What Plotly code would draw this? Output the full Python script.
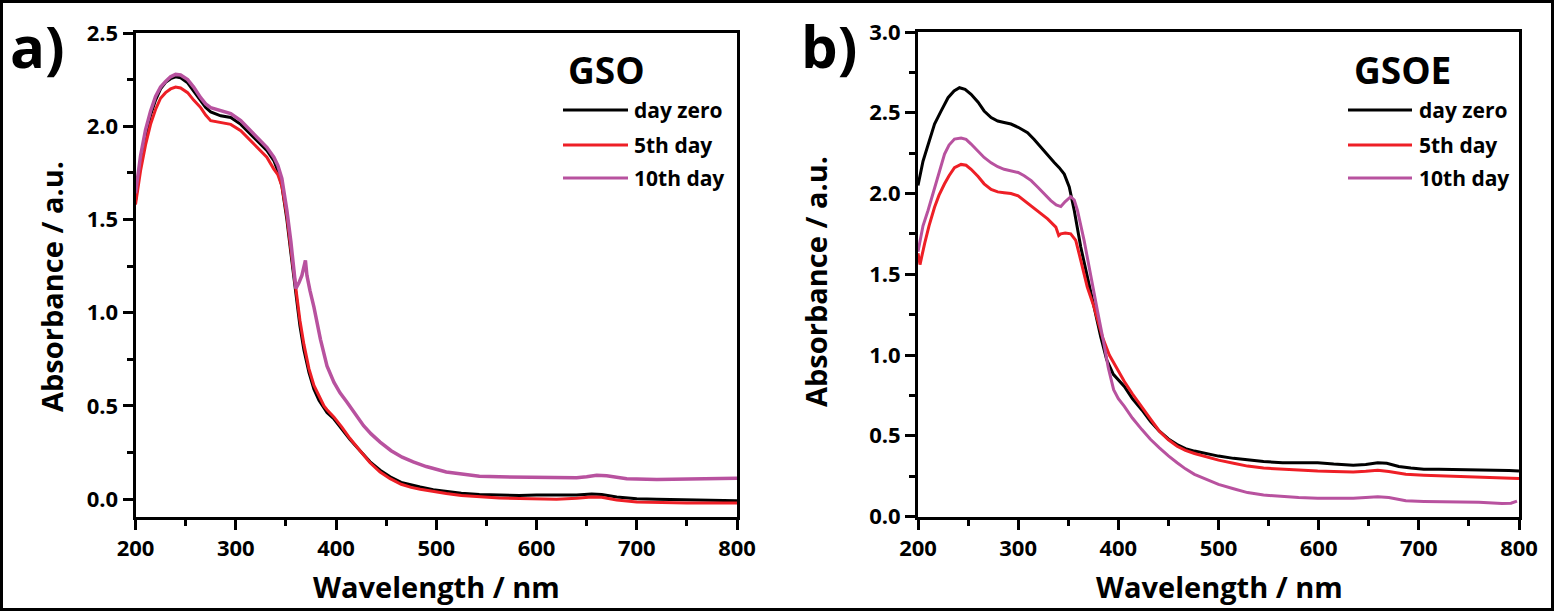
import plotly.graph_objects as go

# ---------------- data: GSO (panel a) ----------------
gso_day0_wl = [200, 205, 210, 215, 220, 225, 230, 235, 240, 245, 252, 258, 265, 270, 275, 285, 295, 305,
               318, 331, 338, 342, 346, 351, 355, 360, 364, 368, 373, 378, 383, 388, 391, 398, 406, 414,
               424, 434, 444, 454, 465, 475, 484, 497, 510, 525, 543, 563, 583, 600, 620, 640, 655, 665,
               680, 700, 720, 750, 780, 800]
gso_day0 = [1.60, 1.80, 1.95, 2.06, 2.14, 2.20, 2.235, 2.255, 2.265, 2.26, 2.233, 2.19, 2.136, 2.10, 2.077,
            2.056, 2.047, 2.01, 1.94, 1.87, 1.816, 1.76, 1.68, 1.50, 1.32, 1.10, 0.93, 0.80, 0.68, 0.59,
            0.53, 0.49, 0.465, 0.43, 0.375, 0.32, 0.26, 0.20, 0.155, 0.12, 0.09, 0.075, 0.065, 0.05,
            0.041, 0.032, 0.025, 0.022, 0.02, 0.022, 0.02, 0.022, 0.028, 0.025, 0.012, 0.002, 0.0,
            -0.002, -0.005, -0.008]

gso_day5_wl = gso_day0_wl
gso_day5 = [1.58, 1.76, 1.90, 2.01, 2.09, 2.15, 2.18, 2.20, 2.21, 2.205, 2.18, 2.14, 2.10, 2.06, 2.03,
            2.02, 2.01, 1.976, 1.905, 1.834, 1.77, 1.74, 1.68, 1.52, 1.34, 1.12, 0.96, 0.83, 0.70, 0.61,
            0.55, 0.50, 0.48, 0.44, 0.385, 0.325, 0.26, 0.195, 0.145, 0.11, 0.08, 0.063, 0.053, 0.04,
            0.03, 0.02, 0.012, 0.006, 0.004, 0.002, 0.0, 0.005, 0.012, 0.01, -0.005, -0.015, -0.018,
            -0.02, -0.02, -0.02]

gso_day10_wl = [200, 205, 210, 215, 220, 225, 230, 235, 240, 245, 252, 258, 265, 270, 275, 285, 295, 305,
                318, 331, 338, 342, 346, 351, 355, 358, 360, 363, 366, 369.5, 371, 374, 378, 384.5, 391,
                398, 404, 411, 419, 427.5, 435, 444, 455, 466, 477, 490, 510, 525, 543, 563, 583, 600,
                620, 640, 650, 660, 670, 690, 720, 750, 780, 800]
gso_day10 = [1.64, 1.84, 1.98, 2.08, 2.16, 2.21, 2.24, 2.265, 2.278, 2.275, 2.25, 2.21, 2.153, 2.12, 2.10,
             2.083, 2.068, 2.03, 1.958, 1.887, 1.834, 1.79, 1.72, 1.55, 1.38, 1.22, 1.13, 1.16, 1.20,
             1.28, 1.20, 1.12, 1.03, 0.857, 0.714, 0.626, 0.57, 0.52, 0.455, 0.394, 0.35, 0.306, 0.26,
             0.225, 0.20, 0.175, 0.146, 0.135, 0.123, 0.12, 0.119, 0.118, 0.115, 0.115, 0.12, 0.128,
             0.125, 0.11, 0.105, 0.108, 0.11, 0.112]

# ---------------- data: GSOE (panel b) ----------------
gsoe_day0_wl = [200, 205, 210, 216.5, 223, 230, 236, 241.4, 247, 253, 260, 266, 273, 279.6, 286, 292.8,
                300, 309.4, 316, 322.7, 330, 336, 341, 346, 351, 356, 362.5, 369, 375.7, 382.4, 388.4,
                395, 406, 414, 423.5, 432, 441, 450, 458.7, 467, 476, 488, 500, 515, 529, 545, 564, 580,
                599, 615, 634.5, 647, 659, 668, 680, 692, 705, 720, 740, 760, 775, 790, 800]
gsoe_day0 = [2.05, 2.20, 2.30, 2.43, 2.51, 2.593, 2.635, 2.655, 2.645, 2.614, 2.565, 2.511, 2.47, 2.449,
             2.44, 2.43, 2.41, 2.377, 2.335, 2.285, 2.235, 2.192, 2.16, 2.12, 2.04, 1.895, 1.668, 1.483,
             1.298, 1.113, 0.97, 0.88, 0.805, 0.73, 0.66, 0.59, 0.528, 0.48, 0.446, 0.42, 0.405, 0.388,
             0.374, 0.36, 0.349, 0.34, 0.333, 0.333, 0.333, 0.325, 0.318, 0.322, 0.333, 0.33, 0.31, 0.30,
             0.292, 0.292, 0.29, 0.29, 0.288, 0.285, 0.281]

gsoe_day5_wl = [200, 202, 206.6, 211, 216.5, 221, 226.5, 231, 236.4, 243, 248, 253, 260, 266, 273, 279.6,
                286, 292.8, 300, 306, 313, 319.4, 329.4, 337.6, 339, 340.5, 342.6, 347, 352.5, 357.5,
                362.5, 369, 375.7, 384, 391, 399, 406, 414, 423.5, 432, 441, 450, 458.7, 467, 476, 488,
                500, 515, 529, 545, 564, 580, 599, 615, 634.5, 647, 659, 670, 687, 705, 720, 740, 760,
                780, 800]
gsoe_day5 = [1.63, 1.56, 1.69, 1.80, 1.915, 1.99, 2.06, 2.11, 2.16, 2.18, 2.175, 2.15, 2.105, 2.06, 2.025,
             2.01, 2.005, 2.0, 1.985, 1.956, 1.925, 1.895, 1.843, 1.792, 1.77, 1.74, 1.75, 1.755, 1.75,
             1.71, 1.586, 1.42, 1.298, 1.113, 1.0, 0.908, 0.836, 0.76, 0.682, 0.605, 0.528, 0.475, 0.435,
             0.41, 0.39, 0.368, 0.349, 0.33, 0.312, 0.30, 0.292, 0.286, 0.281, 0.278, 0.275, 0.28, 0.287,
             0.278, 0.261, 0.255, 0.252, 0.25, 0.245, 0.24, 0.236]

gsoe_day10_wl = [200, 205, 210, 215, 220, 226.5, 231, 236.4, 243, 248, 253, 260, 266, 273, 279.6, 286,
                 292.8, 300, 306, 313, 319.4, 326, 332.6, 338, 342.6, 347, 352.5, 356, 359.2, 365.8, 372.4,
                 379, 385, 390, 395.3, 400, 406, 414, 423.5, 432, 441, 450, 458.7, 467, 476, 488, 500,
                 515, 529, 545, 564, 580, 599, 615, 634.5, 647, 659, 670, 687, 705, 720, 740, 760, 783,
                 792, 798]
gsoe_day10 = [1.64, 1.80, 1.895, 2.0, 2.10, 2.244, 2.30, 2.337, 2.343, 2.335, 2.306, 2.26, 2.223, 2.19,
              2.166, 2.15, 2.141, 2.13, 2.11, 2.08, 2.04, 2.0, 1.956, 1.93, 1.919, 1.95, 1.98, 1.96, 1.895,
              1.71, 1.483, 1.278, 1.09, 0.92, 0.785, 0.73, 0.682, 0.61, 0.538, 0.478, 0.425, 0.375, 0.333,
              0.295, 0.261, 0.228, 0.199, 0.172, 0.148, 0.133, 0.123, 0.117, 0.113, 0.112, 0.113, 0.118,
              0.123, 0.118, 0.097, 0.093, 0.092, 0.09, 0.088, 0.08, 0.082, 0.095]

series_names = ["day zero", "5th day", "10th day"]
series_colors = ["#000000", "#EE1F26", "#B8529F"]
panel_titles = ["GSO", "GSOE"]
panel_letters = ["a)", "b)"]
x_title = "Wavelength / nm"
y_title = "Absorbance / a.u."

W, H = 1554, 611
FONT = "Open Sans"


def px(x):
    return x / W


def py(y):
    return 1 - y / H


fig = go.Figure()

panels = [
    ("x", "y", [(gso_day0_wl, gso_day0), (gso_day5_wl, gso_day5), (gso_day10_wl, gso_day10)], [3, 3, 3.5]),
    ("x2", "y2", [(gsoe_day0_wl, gsoe_day0), (gsoe_day5_wl, gsoe_day5), (gsoe_day10_wl, gsoe_day10)], [3, 3, 3]),
]
for xa, ya, data, widths in panels:
    for (wl, a), name, col, lw in zip(data, series_names, series_colors, widths):
        fig.add_trace(go.Scatter(x=wl, y=a, mode="lines", name=name, xaxis=xa, yaxis=ya,
                                 line=dict(color=col, width=lw), showlegend=False))

tickfont = dict(family=FONT, size=22, color="black", weight="bold")
common_x = dict(range=[200, 800], tick0=200, dtick=100, ticks="outside", ticklen=10, tickwidth=3,
                tickcolor="black", showline=True, linewidth=3, linecolor="black", mirror=True,
                showgrid=False, zeroline=False, tickfont=tickfont, automargin=False,
                minor=dict(dtick=50, ticks="outside", ticklen=6, tickwidth=3, tickcolor="black", showgrid=False))
common_y = dict(tick0=0, dtick=0.5, tickformat=".1f", ticks="outside", ticklen=10, tickwidth=3,
                tickcolor="black", showline=True, linewidth=3, linecolor="black", mirror=True,
                showgrid=False, zeroline=False, tickfont=tickfont, automargin=False,
                minor=dict(dtick=0.25, ticks="outside", ticklen=6, tickwidth=3, tickcolor="black", showgrid=False))

fig.update_layout(
    width=W, height=H, margin=dict(l=0, r=0, t=0, b=0, autoexpand=False),
    paper_bgcolor="white", plot_bgcolor="white",
    xaxis=dict(domain=[px(135.5), px(737)], anchor="y", **common_x),
    yaxis=dict(domain=[py(516.5), py(33)], range=[-0.093, 2.5], anchor="x", **common_y),
    xaxis2=dict(domain=[px(918), px(1519)], anchor="y2", **common_x),
    yaxis2=dict(domain=[py(516.5), py(32)], range=[0, 3.0], anchor="x2", **common_y),
)

ann = []
title_font = dict(family=FONT, size=29, color="black", weight="bold")
# axis titles
for cx, cy in [(436, 586), (1219, 586)]:
    ann.append(dict(x=px(cx), y=py(cy), xref="paper", yref="paper", text=x_title, showarrow=False,
                    font=title_font, xanchor="center", yanchor="middle"))
for cx, cy in [(51, 287), (815, 282)]:
    ann.append(dict(x=px(cx), y=py(cy), xref="paper", yref="paper", text=y_title, showarrow=False,
                    font=title_font, textangle=-90, xanchor="center", yanchor="middle"))
# panel letters
for (cx, cy), t in zip([(37, 45), (829, 45)], panel_letters):
    ann.append(dict(x=px(cx), y=py(cy), xref="paper", yref="paper", text=t, showarrow=False,
                    font=dict(family=FONT, size=58, color="black", weight="bold"),
                    xanchor="center", yanchor="middle"))
# sample names
for (cx, cy), t in zip([(606, 69), (1402, 69)], panel_titles):
    ann.append(dict(x=px(cx), y=py(cy), xref="paper", yref="paper", text=t, showarrow=False,
                    font=dict(family=FONT, size=37, color="black", weight="bold"),
                    xanchor="center", yanchor="middle"))

shapes = []
# legend keys
for (lx0, lx1, tx) in [(563, 628, 632), (1348, 1412, 1417)]:
    for ly, name, col in zip([110, 145, 178], series_names, series_colors):
        shapes.append(dict(type="line", xref="paper", yref="paper", x0=px(lx0), x1=px(lx1),
                           y0=py(ly), y1=py(ly), line=dict(color=col, width=3)))
        ann.append(dict(x=px(tx), y=py(ly), xref="paper", yref="paper", text=name, showarrow=False,
                        font=dict(family=FONT, size=21, color="black", weight="bold"),
                        xanchor="left", yanchor="middle"))
# outer frame
shapes.append(dict(type="rect", xref="paper", yref="paper", x0=px(1.5), x1=px(W - 1.5),
                   y0=py(H - 1.5), y1=py(1.5), line=dict(color="black", width=3)))

fig.update_layout(annotations=ann, shapes=shapes)

fig.write_html("out.html", config={"displayModeBar": False},
               post_script="document.body.style.margin='0';document.body.style.overflow='hidden';")
